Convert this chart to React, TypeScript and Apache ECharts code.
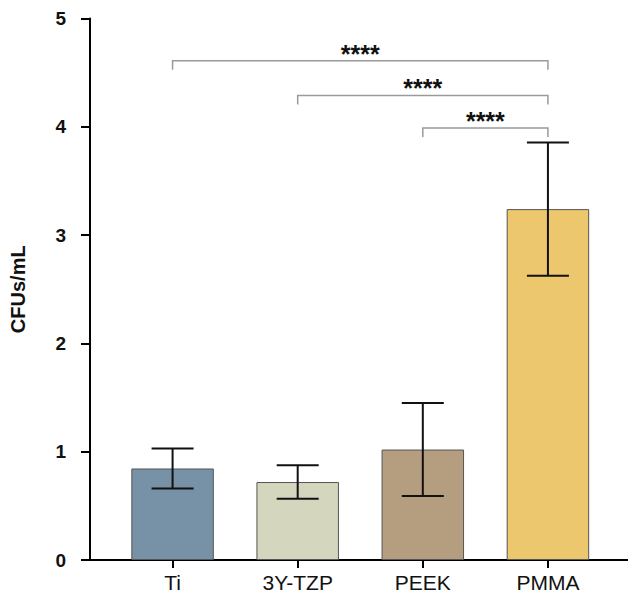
import React, { useEffect, useRef } from "react";
import * as echarts from "echarts";

const categories = ["Ti", "3Y-TZP", "PEEK", "PMMA"];
const means = [0.845, 0.72, 1.02, 3.24];
const errors = [0.185, 0.155, 0.43, 0.615];
const barColors = ["#7791a6", "#d4d7be", "#b59d7f", "#ecc76e"];
const yTicks = [0, 1, 2, 3, 4, 5];
// comparisons: [fromIndex, toIndex, height, label]
const brackets: [number, number, number, string][] = [
  [0, 3, 4.61, "****"],
  [1, 3, 4.29, "****"],
  [2, 3, 3.99, "****"],
];

export default function App() {
  const ref = useRef<HTMLDivElement>(null);
  useEffect(() => {
    document.body.style.margin = "0";
    const chart = echarts.init(ref.current!, null, { renderer: "svg" });
    const font = "Liberation Sans, Arial, Helvetica, sans-serif";
    chart.setOption({
      animation: false,
      backgroundColor: "#ffffff",
      grid: { left: 89, right: 0, top: 18.5, bottom: 35 },
      xAxis: {
        type: "value",
        min: -0.66,
        max: 3.64,
        axisLine: { show: true, onZero: false, lineStyle: { color: "#000", width: 2 } },
        axisTick: {
          show: true,
          customValues: categories.map((_, i) => i),
          length: 8,
          lineStyle: { color: "#000", width: 2 },
        },
        axisLabel: {
          customValues: categories.map((_, i) => i),
          formatter: (v: number) => categories[Math.round(v)] ?? "",
          color: "#111",
          fontSize: 21,
          fontFamily: font,
          margin: 12,
        },
        splitLine: { show: false },
      },
      yAxis: {
        type: "value",
        min: 0,
        max: 5,
        interval: 1,
        name: "CFUs/mL",
        nameLocation: "middle",
        nameGap: 62,
        nameRotate: 90,
        nameTextStyle: { fontSize: 20, fontWeight: "bold", color: "#111", fontFamily: font },
        axisLine: { show: true, onZero: false, lineStyle: { color: "#000", width: 2 } },
        axisTick: { show: true, length: 9, lineStyle: { color: "#000", width: 2 } },
        axisLabel: {
          formatter: (v: number) => (yTicks.includes(v) ? String(v) : ""),
          fontSize: 19,
          fontWeight: "bold",
          color: "#111",
          fontFamily: font,
          margin: 24,
        },
        splitLine: { show: false },
      },
      series: [
        {
          type: "bar",
          barWidth: 82.5,
          data: means.map((m, i) => ({
            value: [i, m],
            itemStyle: { color: barColors[i], borderColor: "#555", borderWidth: 1 },
          })),
        },
        {
          type: "custom",
          data: means.map((m, i) => [i, m - errors[i], m + errors[i]]),
          renderItem: (params: any, api: any) => {
            const x = api.value(0);
            const lo = api.coord([x, api.value(1)]);
            const hi = api.coord([x, api.value(2)]);
            const hw = 21;
            const style = { stroke: "#111", lineWidth: 2 };
            return {
              type: "group",
              children: [
                { type: "line", shape: { x1: lo[0], y1: lo[1], x2: hi[0], y2: hi[1] }, style },
                { type: "line", shape: { x1: hi[0] - hw, y1: hi[1], x2: hi[0] + hw, y2: hi[1] }, style },
                { type: "line", shape: { x1: lo[0] - hw, y1: lo[1], x2: lo[0] + hw, y2: lo[1] }, style },
              ],
            };
          },
          z: 5,
        },
        {
          type: "custom",
          data: brackets.map((b) => [b[0], b[1], b[2]]),
          renderItem: (params: any, api: any) => {
            const a = api.coord([api.value(0), api.value(2)]);
            const b = api.coord([api.value(1), api.value(2)]);
            const drop = 9;
            const label = brackets[params.dataIndex][3];
            return {
              type: "group",
              children: [
                {
                  type: "polyline",
                  shape: {
                    points: [
                      [a[0], a[1] + drop],
                      [a[0], a[1]],
                      [b[0], b[1]],
                      [b[0], b[1] + drop],
                    ],
                  },
                  style: { stroke: "#9a9a9a", lineWidth: 1.5, fill: null },
                },
                {
                  type: "text",
                  x: (a[0] + b[0]) / 2,
                  y: a[1] - 7,
                  style: {
                    text: label,
                    fontSize: 25,
                    fontWeight: "bold",
                    fontFamily: font,
                    fill: "#111",
                    align: "center",
                    verticalAlign: "middle",
                  },
                },
              ],
            };
          },
          z: 6,
        },
      ],
    });
    return () => chart.dispose();
  }, []);
  return <div ref={ref} style={{ width: 628, height: 595 }} />;
}
